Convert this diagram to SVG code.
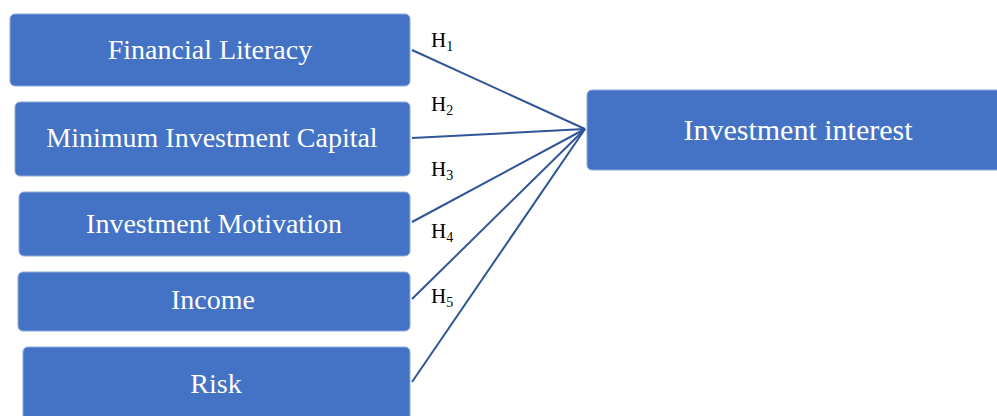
<svg xmlns="http://www.w3.org/2000/svg" width="997" height="416" viewBox="0 0 997 416">
<style>
.box{fill:#4472C4;stroke:#8FAADC;stroke-width:1}
.lbl{font-family:"Liberation Serif","Times New Roman",serif;font-size:28px;fill:#ffffff;text-anchor:middle}
.h{font-family:"Liberation Serif","Times New Roman",serif;font-size:21px;fill:#000000}
.sub{font-size:14px}
.conn{stroke:#2F5597;stroke-width:2;fill:none}
</style>
<rect width="997" height="416" fill="#ffffff"/>
<g id="n1"><rect class="box" x="10" y="14" width="400" height="72" rx="5"/><text class="lbl" x="210" y="59">Financial Literacy</text></g>
<g id="n2"><rect class="box" x="15" y="102" width="395" height="74" rx="5"/><text class="lbl" x="212" y="147">Minimum Investment Capital</text></g>
<g id="n3"><rect class="box" x="19" y="192" width="391" height="64" rx="5"/><text class="lbl" x="214" y="233">Investment Motivation</text></g>
<g id="n4"><rect class="box" x="18" y="272" width="392" height="59" rx="5"/><text class="lbl" x="213" y="309">Income</text></g>
<g id="n5"><rect class="box" x="23" y="347" width="387" height="80" rx="5"/><text class="lbl" x="216" y="393">Risk</text></g>
<g id="target"><rect class="box" x="587" y="90" width="420" height="80" rx="5"/><text class="lbl" x="798" y="140" style="font-size:30px">Investment interest</text></g>
<g id="connectors">
<line class="conn" x1="412" y1="50" x2="585" y2="129"/>
<line class="conn" x1="412" y1="138" x2="585" y2="129"/>
<line class="conn" x1="412" y1="222" x2="585" y2="129"/>
<line class="conn" x1="412" y1="299" x2="585" y2="129"/>
<line class="conn" x1="412" y1="382" x2="585" y2="129"/>
<text class="h" x="431" y="47">H<tspan class="sub" dy="4">1</tspan></text>
<text class="h" x="431" y="111">H<tspan class="sub" dy="4">2</tspan></text>
<text class="h" x="431" y="176">H<tspan class="sub" dy="4">3</tspan></text>
<text class="h" x="431" y="238">H<tspan class="sub" dy="4">4</tspan></text>
<text class="h" x="431" y="303">H<tspan class="sub" dy="4">5</tspan></text>
</g>
</svg>
